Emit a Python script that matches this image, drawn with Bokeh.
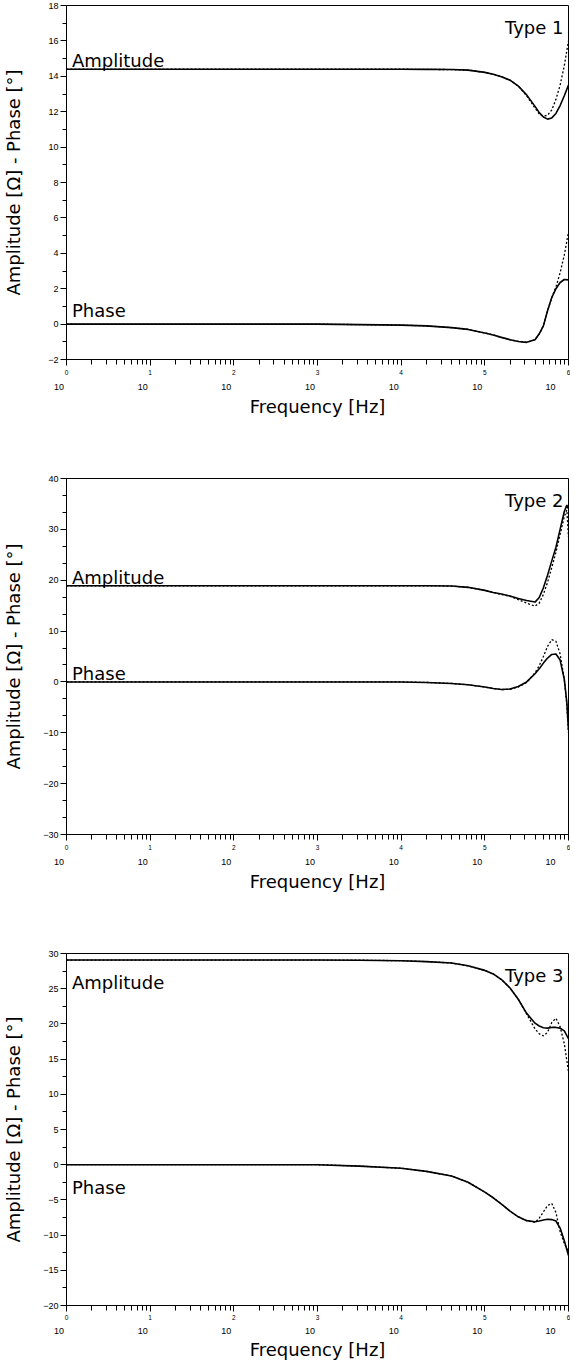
from bokeh.plotting import figure
from bokeh.models import (LogAxis, FixedTicker, SingleIntervalTicker,
                          CustomJSTickFormatter, Label, Range1d)
from bokeh.layouts import column
from bokeh.embed import file_html
from bokeh.resources import INLINE

# ---------------- data ----------------
decades = [1, 10, 100, 1000, 10000, 100000, 1000000]
minor_x = [m * d for d in decades[:-1] for m in range(2, 10)]

# Type 1
freq1 = [1, 10, 100, 1000, 3160, 10000, 20000, 40000, 63000, 100000, 126000, 158000,
         200000, 251000, 316000, 398000, 447000, 501000, 562000, 631000, 708000,
         794000, 891000, 1000000]
amp_meas1 = [14.4, 14.4, 14.4, 14.4, 14.4, 14.4, 14.39, 14.38, 14.35, 14.22, 14.12, 13.98,
             13.78, 13.45, 12.95, 12.3, 11.95, 11.7, 11.58, 11.65, 11.9, 12.35, 12.9, 13.5]
amp_model1 = [14.4, 14.4, 14.4, 14.4, 14.4, 14.4, 14.39, 14.38, 14.35, 14.22, 14.12, 13.98,
              13.78, 13.45, 12.9, 12.2, 11.88, 11.74, 11.8, 12.1, 12.7, 13.5, 14.6, 16.0]
ph_meas1 = [0, 0, 0, 0, -0.03, -0.06, -0.1, -0.2, -0.3, -0.5, -0.62, -0.75,
            -0.88, -0.98, -1.03, -0.88, -0.55, -0.1, 0.75, 1.5, 2.0, 2.35, 2.52, 2.5]
ph_model1 = [0, 0, 0, 0, -0.03, -0.06, -0.1, -0.2, -0.3, -0.5, -0.62, -0.75,
             -0.88, -0.98, -1.03, -0.88, -0.55, -0.1, 0.75, 1.5, 2.1, 2.9, 3.9, 5.2]

# Type 2
freq2 = [1, 10, 100, 1000, 10000, 20000, 40000, 63000, 100000, 126000, 158000, 200000,
         251000, 316000, 398000, 447000, 501000, 562000, 631000, 708000, 794000, 891000,
         955000, 1000000]
amp_meas2 = [18.9, 18.9, 18.9, 18.9, 18.9, 18.9, 18.85, 18.6, 18.0, 17.6, 17.3, 16.9,
             16.4, 16.0, 15.7, 16.6, 18.5, 21.0, 23.8, 26.5, 30.0, 33.5, 34.8, 34.0]
amp_model2 = [18.9, 18.9, 18.9, 18.9, 18.9, 18.9, 18.85, 18.6, 18.0, 17.6, 17.2, 16.8,
              16.2, 15.5, 14.9, 15.5, 17.2, 19.6, 22.5, 25.5, 29.0, 32.5, 33.8, 28.5]
ph_meas2 = [0, 0, 0, 0, 0, -0.1, -0.3, -0.55, -1.0, -1.3, -1.5, -1.4,
            -0.9, 0.0, 1.6, 2.6, 3.7, 4.7, 5.4, 5.5, 4.3, 0.5, -4.0, -9.5]
ph_model2 = [0, 0, 0, 0, 0, -0.1, -0.3, -0.55, -1.0, -1.3, -1.5, -1.45,
             -1.0, -0.1, 1.8, 3.2, 5.0, 7.0, 8.3, 8.0, 5.5, 0.5, -4.5, -10.0]

# Type 3
freq3 = [1, 10, 100, 1000, 3160, 10000, 20000, 40000, 63000, 100000, 126000, 158000,
         200000, 251000, 316000, 398000, 447000, 501000, 562000, 631000, 708000,
         794000, 891000, 1000000]
amp_meas3 = [29.07, 29.07, 29.07, 29.07, 29.05, 28.98, 28.85, 28.65, 28.25, 27.6, 27.1, 26.3,
             25.1, 23.5, 21.5, 20.1, 19.7, 19.45, 19.4, 19.5, 19.5, 19.4, 19.0, 17.9]
amp_model3 = [29.07, 29.07, 29.07, 29.07, 29.05, 28.98, 28.85, 28.65, 28.25, 27.6, 27.1, 26.3,
              25.1, 23.5, 21.4, 19.3, 18.6, 18.3, 18.8, 20.2, 20.8, 19.6, 17.2, 13.2]
ph_meas3 = [0, 0, 0, 0, -0.2, -0.5, -0.95, -1.6, -2.5, -3.9, -4.7, -5.6,
            -6.6, -7.4, -7.95, -8.1, -8.0, -7.85, -7.75, -7.8, -8.0, -9.0, -10.8, -12.9]
ph_model3 = [0, 0, 0, 0, -0.2, -0.5, -0.95, -1.6, -2.5, -3.9, -4.7, -5.6,
             -6.6, -7.4, -7.95, -8.2, -7.6, -6.7, -5.8, -5.5, -6.8, -9.5, -11.2, -12.3]

panel_titles = ["Type 1", "Type 2", "Type 3"]
x_title = "Frequency [Hz]"
y_title = "Amplitude [\u03a9] - Phase [\u00b0]"
base_label = "10"

FONT = "DejaVu Sans"
TICK_FONT = "Liberation Sans"
INK = "black"


def make_panel(freq, am, amod, pm, pmod, ylo, yhi, interval, nminor, title,
               amp_off, ph_off, frame_h, top, bottom, ylab_standoff, s1, s2, ts):
    p = figure(x_axis_type="log", x_range=Range1d(decades[0], decades[-1]),
               y_range=Range1d(ylo, yhi), frame_width=502, frame_height=frame_h,
               min_border_left=63, min_border_right=2, min_border_top=top,
               min_border_bottom=bottom, toolbar_location=None, output_backend="svg")
    p.xgrid.visible = False
    p.ygrid.visible = False
    p.outline_line_color = INK
    p.outline_line_width = 1
    p.outline_line_alpha = 1

    # y axis
    ya = p.yaxis[0]
    ya.ticker = SingleIntervalTicker(interval=interval, num_minor_ticks=nminor)
    ya.formatter = CustomJSTickFormatter(
        code="return tick < 0 ? '\u2212' + Math.abs(tick) : '' + tick;")
    ya.major_label_text_font = TICK_FONT
    ya.major_label_text_font_size = "9px"
    ya.major_label_text_color = INK
    ya.major_label_standoff = 2
    ya.major_tick_in = 0
    ya.major_tick_out = 6
    ya.minor_tick_in = 0
    ya.minor_tick_out = 4
    ya.axis_line_color = INK
    ya.major_tick_line_color = INK
    ya.minor_tick_line_color = INK
    ya.axis_label = y_title
    ya.axis_label_text_font = FONT
    ya.axis_label_text_font_size = "18px"
    ya.axis_label_text_font_style = "normal"
    ya.axis_label_text_color = INK
    ya.axis_label_standoff = ylab_standoff

    # x axis: exponents
    xa = p.xaxis[0]
    xa.ticker = FixedTicker(ticks=decades, minor_ticks=minor_x)
    xa.formatter = CustomJSTickFormatter(code="return '' + Math.round(Math.log10(tick));")
    xa.major_label_text_font = TICK_FONT
    xa.major_label_text_font_size = "6.5px"
    xa.major_label_text_color = INK
    xa.major_label_standoff = s1
    xa.major_tick_in = 0
    xa.major_tick_out = 6
    xa.minor_tick_in = 0
    xa.minor_tick_out = 5
    xa.axis_line_color = INK
    xa.major_tick_line_color = INK
    xa.minor_tick_line_color = INK

    # x axis: bases "10" (shifted left of the tick) + title
    xb = LogAxis(ticker=FixedTicker(ticks=decades, minor_ticks=[]),
                 formatter=CustomJSTickFormatter(
                     code="return '%s' + '\u00a0\u00a0\u00a0\u00a0\u00a0\u00a0';" % base_label),
                 axis_line_color=None, major_tick_line_color=None,
                 minor_tick_line_color=None, major_tick_in=0, major_tick_out=0,
                 minor_tick_in=0, minor_tick_out=0,
                 major_label_text_font=TICK_FONT, major_label_text_font_size="9px",
                 major_label_text_color=INK, major_label_standoff=s2,
                 axis_label=x_title, axis_label_text_font=FONT,
                 axis_label_text_font_size="18px", axis_label_text_font_style="normal",
                 axis_label_text_color=INK, axis_label_standoff=ts)
    p.add_layout(xb, "below")

    p.line(freq, am, line_color=INK, line_width=1.6)
    p.line(freq, amod, line_color=INK, line_width=1.3, line_dash="2 2")
    p.line(freq, pm, line_color=INK, line_width=1.6)
    p.line(freq, pmod, line_color=INK, line_width=1.3, line_dash="2 2")

    p.add_layout(Label(x=decades[-1], y=yhi, x_offset=-5, y_offset=-21.5, text=title,
                       text_font=FONT, text_font_size="18px", text_align="right",
                       text_color=INK, text_baseline="alphabetic"))
    p.add_layout(Label(x=decades[0], y=am[0], x_offset=5.5, y_offset=amp_off, text="Amplitude",
                       text_font=FONT, text_font_size="18px", text_align="left",
                       text_color=INK, text_baseline="alphabetic"))
    p.add_layout(Label(x=decades[0], y=pm[0], x_offset=5.5, y_offset=ph_off, text="Phase",
                       text_font=FONT, text_font_size="18px", text_align="left",
                       text_color=INK, text_baseline="alphabetic"))
    return p


p1 = make_panel(freq1, amp_meas1, amp_model1, ph_meas1, ph_model1, -2, 18, 2, 2,
                panel_titles[0], 9, 13.3, 354, 5, 114, 21, 4, 4, 1)
p2 = make_panel(freq2, amp_meas2, amp_model2, ph_meas2, ph_model2, -30, 40, 10, 3,
                panel_titles[1], 8.3, 8.6, 356, 5, 114, 16, 4, 4, 1)
p3 = make_panel(freq3, amp_meas3, amp_model3, ph_meas3, ph_model3, -20, 30, 5, 2,
                panel_titles[2], -22.7, -22.4, 352, 5, 51, 16, 3, 3, 0)

layout = column(p1, p2, p3)
open("out.html", "w").write(file_html(layout, INLINE))
